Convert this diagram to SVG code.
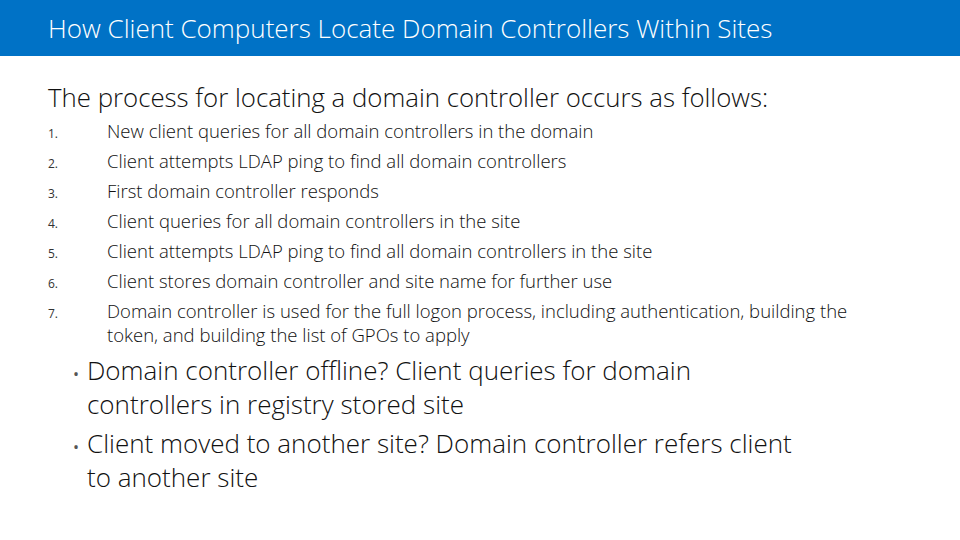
<svg xmlns="http://www.w3.org/2000/svg" width="960" height="540" viewBox="0 0 960 540">
<style>
text{font-family:"Open Sans","Noto Sans",sans-serif;fill:#111}
.t{fill:#fff;font-size:26px;font-weight:300}
.h{font-size:25.8px;font-weight:300}
.n{font-size:12px;fill:#333}
.i{font-size:18.5px;font-weight:300}
.b{font-size:26px;font-weight:300}
.d{font-size:16px;fill:#555}
</style>
<rect width="960" height="540" fill="#fff"/>
<rect width="960" height="56" fill="#0072C6"/>
<text class="t" x="48" y="38">How Client Computers Locate Domain Controllers Within Sites</text>
<text class="h" x="48" y="107">The process for locating a domain controller occurs as follows:</text>
<g>
<text class="n" x="48" y="138">1.</text><text class="i" x="107" y="138">New client queries for all domain controllers in the domain</text>
<text class="n" x="48" y="168">2.</text><text class="i" x="107" y="168">Client attempts LDAP ping to find all domain controllers</text>
<text class="n" x="48" y="198">3.</text><text class="i" x="107" y="198">First domain controller responds</text>
<text class="n" x="48" y="228">4.</text><text class="i" x="107" y="228">Client queries for all domain controllers in the site</text>
<text class="n" x="48" y="258">5.</text><text class="i" x="107" y="258">Client attempts LDAP ping to find all domain controllers in the site</text>
<text class="n" x="48" y="288">6.</text><text class="i" x="107" y="288">Client stores domain controller and site name for further use</text>
<text class="n" x="48" y="318">7.</text><text class="i" x="107" y="318">Domain controller is used for the full logon process, including authentication, building the</text>
<text class="i" x="107" y="342">token, and building the list of GPOs to apply</text>
</g>
<g>
<text class="d" x="73" y="380">•</text><text class="b" x="87" y="380">Domain controller offline? Client queries for domain</text>
<text class="b" x="87" y="414">controllers in registry stored site</text>
<text class="d" x="73" y="453">•</text><text class="b" x="87" y="453">Client moved to another site? Domain controller refers client</text>
<text class="b" x="87" y="487">to another site</text>
</g>
</svg>
